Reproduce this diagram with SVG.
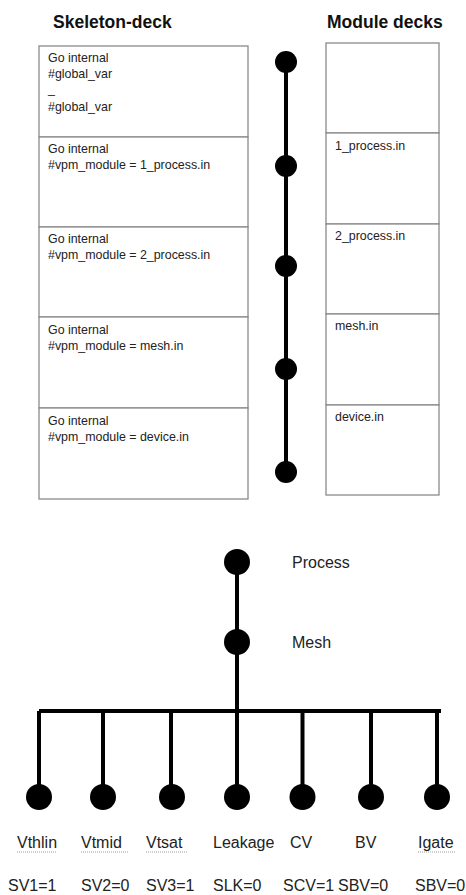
<svg xmlns="http://www.w3.org/2000/svg" width="466" height="895" viewBox="0 0 466 895">
<style>
  .hdr { font-family: "Liberation Sans", Arial, sans-serif; font-weight: bold; font-size: 17.5px; fill: #111; }
  .box { fill: #fff; stroke: #8a8a8a; stroke-width: 1.3; }
  .t { font-family: "Liberation Sans", Arial, sans-serif; font-size: 12.4px; fill: #222; }
  .lbl { font-family: "Liberation Sans", Arial, sans-serif; font-size: 16px; fill: #222; }
  .wire { stroke: #000; stroke-width: 4; fill: none; }
  .dot { fill: #000; }
  .sq { stroke: #a0a0a0; stroke-width: 1.2; stroke-dasharray: 1 1; }
</style>
<rect width="466" height="895" fill="#fff"/>

<text class="hdr" x="53" y="28">Skeleton-deck</text>
<text class="hdr" x="327" y="28">Module decks</text>

<g id="connectors">
  <line class="wire" x1="286" y1="62" x2="286" y2="472"/>
  <line class="wire" x1="237" y1="562" x2="237" y2="797"/>
  <line class="wire" x1="39" y1="711" x2="441" y2="711"/>
  <line class="wire" x1="39" y1="711" x2="39" y2="797"/>
  <line class="wire" x1="103" y1="711" x2="103" y2="797"/>
  <line class="wire" x1="171" y1="711" x2="171" y2="797"/>
  <line class="wire" x1="302.5" y1="711" x2="302.5" y2="797"/>
  <line class="wire" x1="371" y1="711" x2="371" y2="797"/>
  <line class="wire" x1="437" y1="711" x2="437" y2="797"/>
</g>

<g id="skel1"><rect class="box" x="39" y="46" width="209" height="91"/>
  <text class="t" x="48" y="62">Go internal</text>
  <text class="t" x="48" y="78">#global_var</text>
  <text class="t" x="48" y="93">_</text>
  <text class="t" x="48" y="111">#global_var</text>
</g>
<g id="skel2"><rect class="box" x="39" y="137" width="209" height="90"/>
  <text class="t" x="48" y="153">Go internal</text>
  <text class="t" x="48" y="169">#vpm_module = 1_process.in</text>
</g>
<g id="skel3"><rect class="box" x="39" y="227" width="209" height="90"/>
  <text class="t" x="48" y="243">Go internal</text>
  <text class="t" x="48" y="259">#vpm_module = 2_process.in</text>
</g>
<g id="skel4"><rect class="box" x="39" y="317" width="209" height="91"/>
  <text class="t" x="48" y="334">Go internal</text>
  <text class="t" x="48" y="350">#vpm_module = mesh.in</text>
</g>
<g id="skel5"><rect class="box" x="39" y="408" width="209" height="91"/>
  <text class="t" x="48" y="425">Go internal</text>
  <text class="t" x="48" y="441">#vpm_module = device.in</text>
</g>

<g id="mod0"><rect class="box" x="326" y="43" width="113" height="90"/></g>
<g id="mod1"><rect class="box" x="326" y="133" width="113" height="91"/>
  <text class="t" x="335" y="150">1_process.in</text></g>
<g id="mod2"><rect class="box" x="326" y="224" width="113" height="90"/>
  <text class="t" x="335" y="240">2_process.in</text></g>
<g id="mod3"><rect class="box" x="326" y="314" width="113" height="91"/>
  <text class="t" x="335" y="330">mesh.in</text></g>
<g id="mod4"><rect class="box" x="326" y="405" width="113" height="90"/>
  <text class="t" x="335" y="421">device.in</text></g>

<g id="seqdots">
  <circle class="dot" cx="286" cy="62" r="11"/>
  <circle class="dot" cx="286" cy="166" r="11"/>
  <circle class="dot" cx="286" cy="266" r="11"/>
  <circle class="dot" cx="286" cy="369" r="11"/>
  <circle class="dot" cx="286" cy="472" r="11"/>
</g>

<g id="process"><circle class="dot" cx="237" cy="562" r="13"/>
  <text class="lbl" x="292" y="568">Process</text></g>
<g id="mesh"><circle class="dot" cx="237" cy="642" r="13"/>
  <text class="lbl" x="292" y="648">Mesh</text></g>

<g id="vthlin"><circle class="dot" cx="39" cy="797" r="13"/>
  <text class="lbl" x="17" y="848">Vthlin</text>
  <line class="sq" x1="17" y1="852" x2="56" y2="852"/>
  <text class="lbl" x="8" y="891">SV1=1</text></g>
<g id="vtmid"><circle class="dot" cx="103" cy="797" r="13"/>
  <text class="lbl" x="81" y="848">Vtmid</text>
  <line class="sq" x1="81" y1="852" x2="128" y2="852"/>
  <text class="lbl" x="81" y="891">SV2=0</text></g>
<g id="vtsat"><circle class="dot" cx="172" cy="797" r="13"/>
  <text class="lbl" x="146" y="848">Vtsat</text>
  <line class="sq" x1="146" y1="852" x2="187" y2="852"/>
  <text class="lbl" x="146" y="891">SV3=1</text></g>
<g id="leakage"><circle class="dot" cx="237" cy="797" r="13"/>
  <text class="lbl" x="213" y="848">Leakage</text>
  <text class="lbl" x="213" y="891">SLK=0</text></g>
<g id="cv"><circle class="dot" cx="302.5" cy="797" r="13"/>
  <text class="lbl" x="290" y="848">CV</text>
  <text class="lbl" x="283" y="891">SCV=1</text></g>
<g id="bv"><circle class="dot" cx="371" cy="797" r="13"/>
  <text class="lbl" x="355" y="848">BV</text>
  <text class="lbl" x="338" y="891">SBV=0</text></g>
<g id="igate"><circle class="dot" cx="437" cy="797" r="13"/>
  <text class="lbl" x="418" y="848">Igate</text>
  <line class="sq" x1="418" y1="852" x2="455" y2="852"/>
  <text class="lbl" x="415" y="891">SBV=0</text></g>
</svg>
